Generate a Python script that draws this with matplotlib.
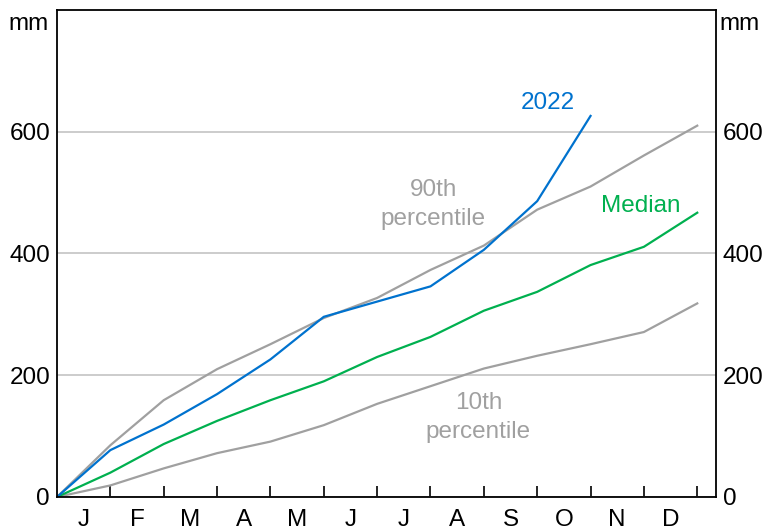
import matplotlib
matplotlib.use("Agg")
import matplotlib.pyplot as plt
import numpy as np

plt.rcParams['font.family'] = ['Liberation Sans', 'DejaVu Sans']

# cumulative rainfall, mm, at end of each month (0 = start of year)
months = ['J', 'F', 'M', 'A', 'M', 'J', 'J', 'A', 'S', 'O', 'N', 'D']
rain_2022 = [0, 77, 119, 169, 226, 296, 321, 346, 406, 486, 626]
pct_90 = [0, 85, 159, 210, 251, 294, 327, 373, 413, 472, 510, 561, 610]
median = [0, 40, 87, 125, 159, 190, 230, 263, 306, 337, 381, 411, 467]
pct_10 = [0, 19, 47, 72, 91, 118, 153, 182, 211, 232, 251, 271, 318]

blue = '#0072CE'
green = '#00B04F'
grey = '#A0A0A0'

fig = plt.figure(figsize=(7.63, 5.32), dpi=100)
ax = fig.add_axes([0.0747, 0.0658, 0.8636, 0.9154])

ax.plot(np.arange(len(pct_10)), pct_10, color=grey, lw=1.6)
ax.plot(np.arange(len(pct_90)), pct_90, color=grey, lw=1.6)
ax.plot(np.arange(len(median)), median, color=green, lw=1.6)
ax.plot(np.arange(len(rain_2022)), rain_2022, color=blue, lw=1.6)

ax.set_xlim(0, 12.35)
ax.set_ylim(0, 800)
ax.set_yticks([0, 200, 400, 600])
ax.yaxis.grid(True, color='#C4C4C4', lw=1.2)
ax.set_axisbelow(True)
ax.tick_params(axis='y', length=0, labelsize=17.5, pad=5, labelright=True)

ax.set_xticks(np.arange(1, 13))
ax.set_xticklabels([])
ax.set_xticks(np.arange(12) + 0.5, minor=True)
ax.set_xticklabels(months, minor=True)
ax.tick_params(axis='x', which='major', direction='in', length=8, width=1.2)
ax.tick_params(axis='x', which='minor', length=0, labelsize=17.5, pad=9)

for s in ax.spines.values():
    s.set_linewidth(1.3)

ax.text(-0.012, 0.993, 'mm', transform=ax.transAxes, ha='right', va='top', fontsize=17.5)
ax.text(1.005, 0.993, 'mm', transform=ax.transAxes, ha='left', va='top', fontsize=17.5)

ax.text(9.2, 648, '2022', color=blue, fontsize=17.5, ha='center', va='center')
ax.text(7.05, 480, '90th\npercentile', color=grey, fontsize=17.5, ha='center', va='center', linespacing=1.4)
ax.text(10.95, 478, 'Median', color=green, fontsize=17.5, ha='center', va='center')
ax.text(7.9, 130, '10th\npercentile', color=grey, fontsize=17.5, ha='center', va='center', linespacing=1.4)

fig.savefig('out.png', dpi=100)
